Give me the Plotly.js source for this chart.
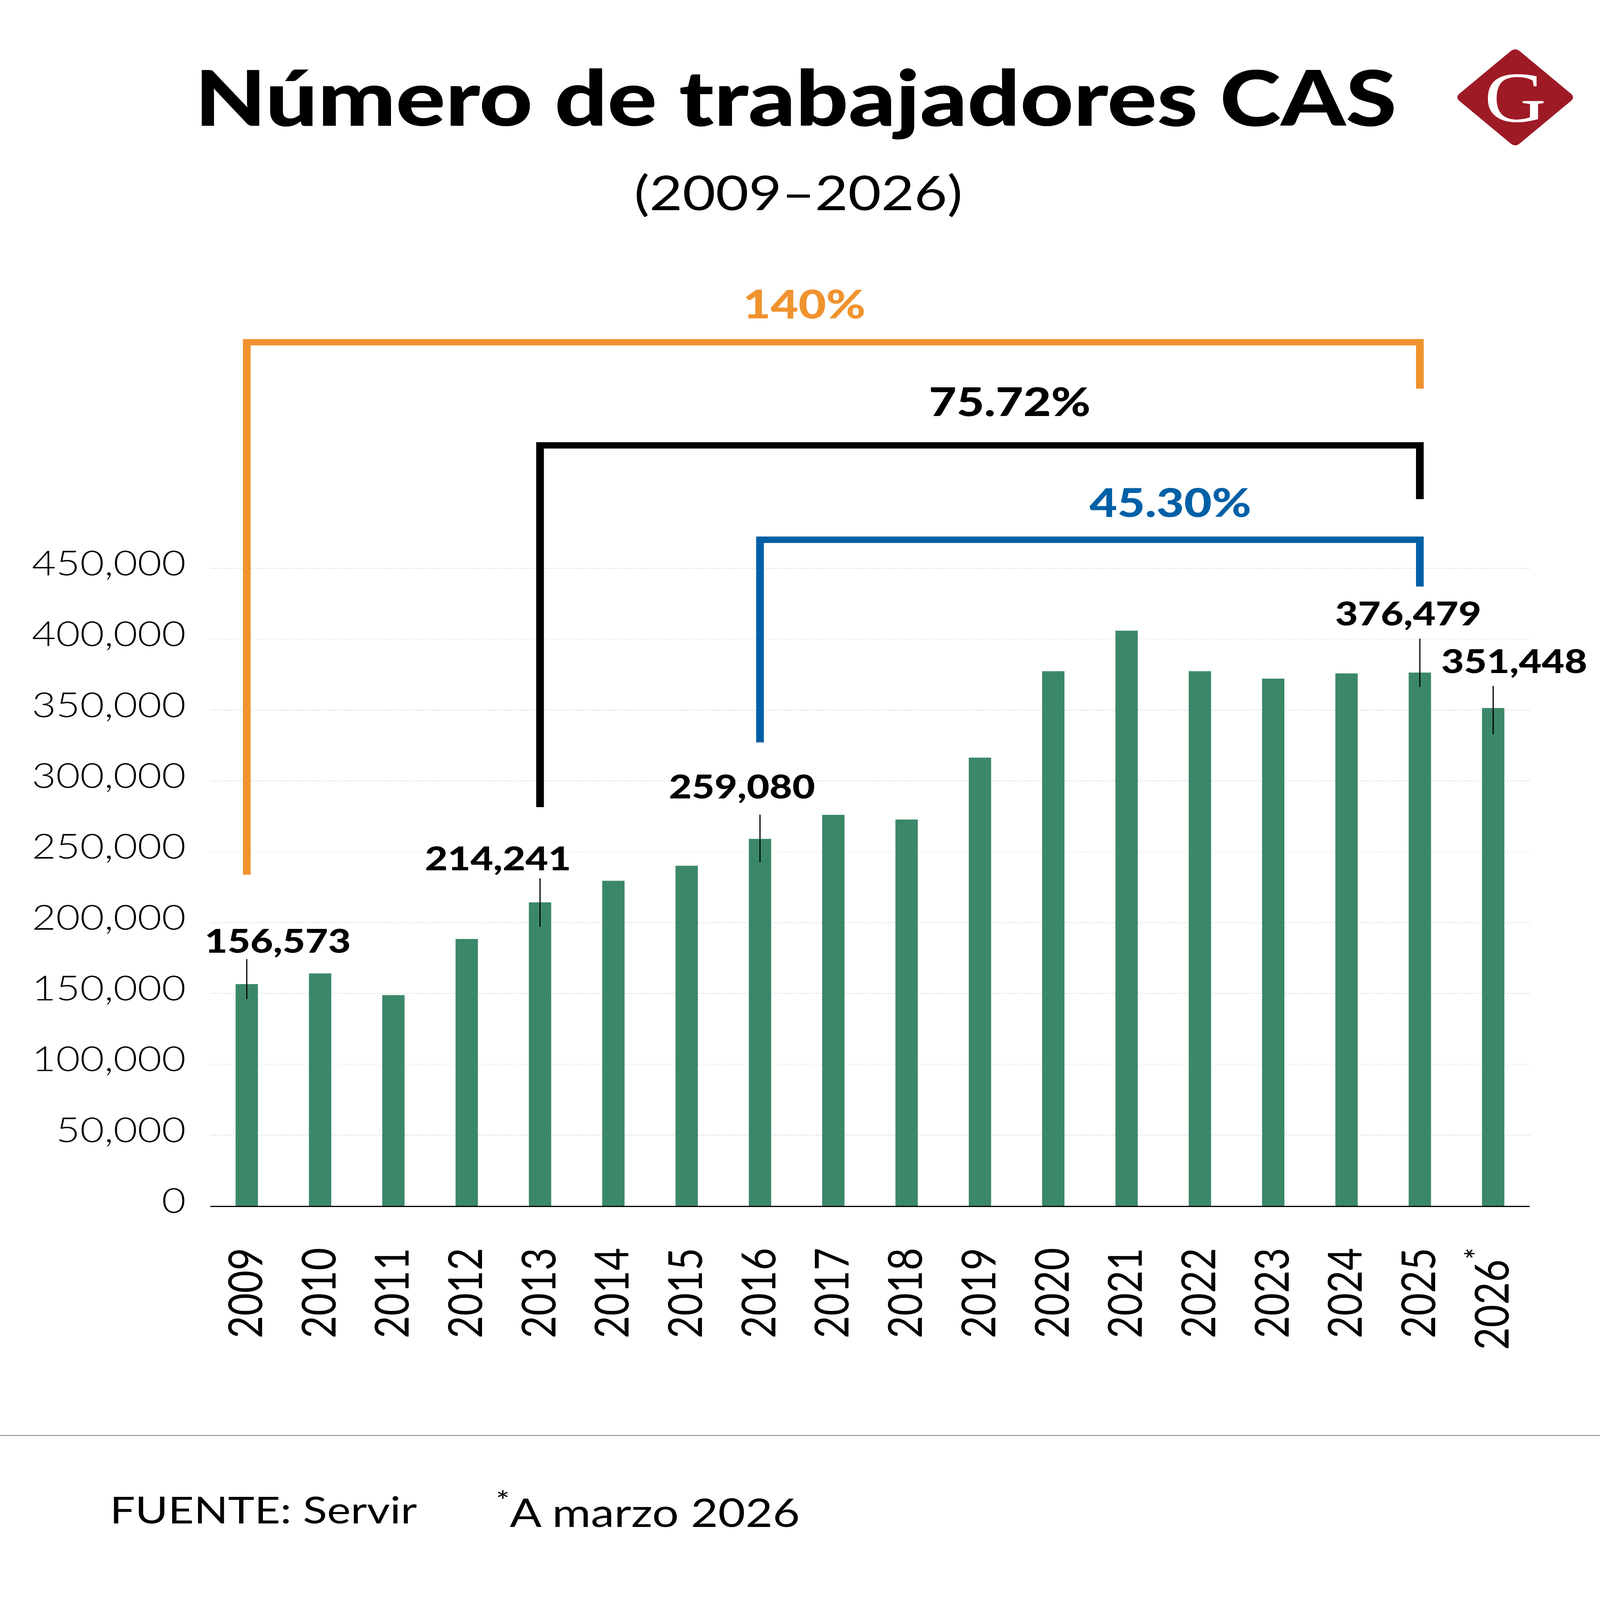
<!DOCTYPE html>
<html>
<head>
<meta charset="utf-8">
<script src="https://cdn.plot.ly/plotly-3.0.1.min.js"></script>
<style>html,body{margin:0;padding:0;background:#fff;overflow:hidden;}</style>
</head>
<body>
<div id="chart" style="width:4150px;height:4998px;transform-origin:0 0;"></div>
<script>
// ---- data ----
const years = ['2009','2010','2011','2012','2013','2014','2015','2016','2017','2018','2019','2020','2021','2022','2023','2024','2025','2026'];
const tickLabels = ['2009','2010','2011','2012','2013','2014','2015','2016','2017','2018','2019','2020','2021','2022','2023','2024','2025','2026<sup>*</sup>'];
const workers = [156573,164100,148800,188400,214241,229500,240100,259080,276000,272700,316400,377450,406000,377450,372150,375800,376479,351448];
const yTickVals = [0,50000,100000,150000,200000,250000,300000,350000,400000,450000];
const yTickText = ['0','50,000','100,000','150,000','200,000','250,000','300,000','350,000','400,000','450,000'];

// labelled years
const labelYears = ['2009','2013','2016','2025','2026'];
const labelText = ['156,573','214,241','259,080','376,479','351,448'];

// brackets (x = year, y = value)
const orangeX = ['2009','2009','2025','2025'];
const orangeY = [233800, 609600, 609600, 576800];
const blackX = ['2013','2013','2025','2025'];
const blackY = [281500, 536800, 536800, 498900];
const blueX = ['2016','2016','2025','2025'];
const blueY = [327200, 470200, 470200, 437200];
const pctText = ['140%','75.72%','45.30%'];

// ---- geometry helpers (pixel -> paper) ----
const W = 4150, H = 4998;
const L = 545, R = 3968, T = 846, B = 3767;
const px = x => (x - L) / (R - L);
const py = y => (B - y) / (B - T);
const dataPerPx = 660000 / (B - T);
const idx = yr => years.indexOf(yr);
const cat = yr => tickLabels[idx(yr)];

const GREEN = '#3b8869', ORANGE = '#f0932e', BLUE = '#0060a6', RED = '#9e1a25';
const FONT = 'Lato, "Noto Sans", sans-serif';

const traces = [
  {type:'bar', x: tickLabels, y: workers, marker:{color:GREEN}, hoverinfo:'skip', showlegend:false},
  {type:'scatter', mode:'lines', x: orangeX.map(cat), y: orangeY, line:{color:ORANGE, width:20}, hoverinfo:'skip', showlegend:false},
  {type:'scatter', mode:'lines', x: blackX.map(cat), y: blackY, line:{color:'#000', width:20}, hoverinfo:'skip', showlegend:false},
  {type:'scatter', mode:'lines', x: blueX.map(cat), y: blueY, line:{color:BLUE, width:20}, hoverinfo:'skip', showlegend:false}
];

const lblDx = [80, -109, -47, -30, 55];
const lblDy = [138, 139, 166, 186, 149];
const tickUp = [78, 75, 76, 106, 69];
const tickDown = [47, 76, 73, 45, 82];

const annotations = [];
const shapes = [];

labelYears.forEach((yr, i) => {
  const v = workers[idx(yr)];
  annotations.push({
    x: idx(yr), y: v, xref:'x', yref:'y', text: labelText[i], showarrow:false,
    xanchor:'center', yanchor:'middle', xshift: lblDx[i], yshift: lblDy[i],
    font:{family:FONT, size:102, weight:900, color:'#000'}
  });
  shapes.push({
    type:'line', xref:'x', yref:'y', x0: idx(yr), x1: idx(yr),
    y0: v - tickDown[i]*dataPerPx, y1: v + tickUp[i]*dataPerPx,
    line:{color:'#000', width:3}, layer:'above'
  });
});

const pctColors = [ORANGE, '#000', BLUE];
const pctPos = [[2086, 947], [2619, 1252], [3036, 1566]];
pctText.forEach((t, i) => {
  annotations.push({
    x: px(pctPos[i][0]), y: py(pctPos[i][1]), xref:'paper', yref:'paper',
    text: t, showarrow:false, xanchor:'center', yanchor:'middle',
    font:{family:FONT, size:124, weight:900, color:pctColors[i]}
  });
});

annotations.push({
  x: px(2064), y: py(300), xref:'paper', yref:'paper', text:'Número de trabajadores CAS',
  showarrow:false, xanchor:'center', yanchor:'middle',
  font:{family:FONT, size:240, weight:900, color:'#000'}
});
annotations.push({
  x: px(2071), y: py(600), xref:'paper', yref:'paper', text:'(2009–2026)',
  showarrow:false, xanchor:'center', yanchor:'middle',
  font:{family:FONT, size:148, weight:400, color:'#000'}
});

// logo
const cx = 3930, cy = 304, hw = 156, hh = 156, rr = 14;
function pt(x, y){ return px(x) + ',' + py(y); }
const logoPath =
  'M' + pt(cx - rr, cy - hh + rr) +
  ' Q' + pt(cx, cy - hh - 2) + ' ' + pt(cx + rr, cy - hh + rr) +
  ' L' + pt(cx + hw - rr, cy - rr) +
  ' Q' + pt(cx + hw + 2, cy) + ' ' + pt(cx + hw - rr, cy + rr) +
  ' L' + pt(cx + rr, cy + hh - rr) +
  ' Q' + pt(cx, cy + hh + 2) + ' ' + pt(cx - rr, cy + hh - rr) +
  ' L' + pt(cx - hw + rr, cy + rr) +
  ' Q' + pt(cx - hw - 2, cy) + ' ' + pt(cx - hw + rr, cy - rr) + ' Z';
shapes.push({type:'path', xref:'paper', yref:'paper', path: logoPath, fillcolor:RED, line:{width:0}});
annotations.push({
  x: px(cx), y: py(cy), xref:'paper', yref:'paper', text:'G', showarrow:false,
  xanchor:'center', yanchor:'middle',
  font:{family:'"Liberation Serif", "DejaVu Serif", serif', size:222, color:'#fff'}
});

// footer
shapes.push({type:'line', xref:'paper', yref:'paper', x0: px(0), x1: px(W), y0: py(4484), y1: py(4484),
  line:{color:'#9a9a9a', width:3}});
annotations.push({
  x: px(283), y: py(4714), xref:'paper', yref:'paper', text:'FUENTE: Servir', showarrow:false,
  xanchor:'left', yanchor:'middle', font:{family:FONT, size:116, weight:400, color:'#000'}
});
annotations.push({
  x: px(1284), y: py(4714), xref:'paper', yref:'paper', text:'<sup>*</sup>A marzo 2026', showarrow:false,
  xanchor:'left', yanchor:'middle', font:{family:FONT, size:122, weight:400, color:'#000'}
});

const layout = {
  width: W, height: H,
  margin: {l: L, r: W - R, t: T, b: H - B, pad: 0},
  paper_bgcolor:'#fff', plot_bgcolor:'#fff',
  showlegend:false,
  bargap: 0.695,
  xaxis: {
    type:'category', categoryorder:'array', categoryarray: tickLabels,
    range:[-0.5, tickLabels.length - 0.5], tickangle: -90,
    tickfont:{family:FONT, size:122, color:'#000'},
    showline:true, linecolor:'#000', linewidth:4, showgrid:false, zeroline:false,
    ticks:'', ticklabelstandoff: 78, automargin:false, fixedrange:true
  },
  yaxis: {
    range:[0, 660000], tickvals: yTickVals, ticktext: yTickText,
    tickfont:{family:FONT, size:108, weight:300, color:'#000'},
    showgrid:true, gridcolor:'#d6d6d6', gridwidth:2, griddash:'dot',
    zeroline:false, showline:false, ticks:'', ticklabelstandoff: 62, ticklabelshift: -16,
    automargin:false, fixedrange:true
  },
  annotations: annotations,
  shapes: shapes
};

// fit the full 4150x4998 chart into the actual browser viewport
function fit(){
  const el = document.getElementById('chart');
  const sx = Math.min(1, window.innerWidth / W);
  const sy = Math.min(1, window.innerHeight / H);
  el.style.transform = 'scale(' + sx + ',' + sy + ')';
}
fit();
Plotly.newPlot('chart', traces, layout, {staticPlot:true, displayModeBar:false}).then(fit);
</script>
</body>
</html>
